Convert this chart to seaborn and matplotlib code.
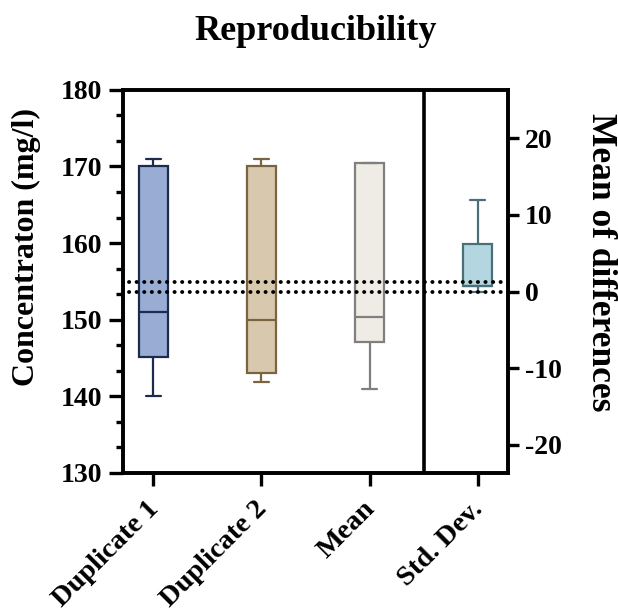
import numpy as np
import pandas as pd
import matplotlib
matplotlib.use("Agg")
import matplotlib.pyplot as plt
import matplotlib.transforms as mtransforms
import seaborn as sns

# categories and box summaries (min, q1, median, q3, max)
categories = ["Duplicate 1", "Duplicate 2", "Mean", "Std. Dev."]
duplicate_1 = [140.0, 145.1, 151.0, 170.0, 171.0]
duplicate_2 = [141.9, 143.0, 150.0, 170.0, 171.0]
mean_vals = [140.9, 147.1, 150.4, 170.4, 170.4]
std_dev = [0.0, 0.7, 0.7, 6.2, 12.0]      # on the right axis

fill_colors = ["#98acd4", "#d8c9ae", "#efebe5", "#b3d6e0"]
edge_colors = ["#1c2b4e", "#7a6440", "#7f7f7f", "#4b6f79"]

left_ticks = [130, 140, 150, 160, 170, 180]
right_ticks = [-20, -10, 0, 10, 20]
ref_lines = [0.0, 1.3]   # dotted lines, right-axis units

sns.set_theme(style="ticks")
plt.rcParams["font.family"] = ["Liberation Serif", "DejaVu Serif"]
plt.rcParams["font.weight"] = "bold"
plt.rcParams["axes.unicode_minus"] = False
for k in ["text.color", "axes.labelcolor", "xtick.color", "ytick.color", "axes.edgecolor"]:
    plt.rcParams[k] = "black"

fig = plt.figure(figsize=(6.18, 6.11), dpi=100)
ax = fig.add_axes([0.199, 0.226, 0.623, 0.627])
ax2 = ax.twinx()

left_groups = [duplicate_1, duplicate_2, mean_vals]
for i, vals in enumerate(left_groups):
    df = pd.DataFrame({"group": categories[i], "value": vals})
    sns.boxplot(data=df, x="group", y="value", order=categories, ax=ax,
                color=fill_colors[i], linecolor=edge_colors[i], linewidth=1.6,
                width=0.27, whis=(0, 100), saturation=1)

df_sd = pd.DataFrame({"group": categories[3], "value": std_dev})
sns.boxplot(data=df_sd, x="group", y="value", order=categories, ax=ax2,
            color=fill_colors[3], linecolor=edge_colors[3], linewidth=1.6,
            width=0.27, whis=(0, 100), saturation=1)

for y in ref_lines:
    ax2.axhline(y, xmin=0.015, color="black", lw=2.8, linestyle=(0, (0.05, 1.9)),
                dash_capstyle="round", zorder=5)

ax.axvline(2.5, color="black", lw=2.6)

ax.set_xlim(-0.28, 3.28)
ax.set_ylim(130, 180)
ax2.set_ylim(-23.67, 26.33)
ax.set_yticks(left_ticks)
ax.set_yticks(np.arange(130, 180, 10 / 3), minor=True)
ax2.set_yticks(right_ticks)

ax.set_xticks(range(len(categories)))
ax.set_xticklabels(categories, rotation=45, ha="right", rotation_mode="anchor",
                   fontsize=20.5, fontweight="bold")
for lab in ax.get_yticklabels() + ax2.get_yticklabels():
    lab.set_fontsize(20)
    lab.set_fontweight("bold")

ax.set_xlabel("")
ax.set_ylabel("Concentraton (mg/l)", fontsize=23, fontweight="bold",
              va="center", ha="center")
ax.yaxis.set_label_coords(-0.252, 0.59)
ax2.set_ylabel("Mean of differences", fontsize=25.5, fontweight="bold",
               rotation=270, va="center", ha="center")
ax2.yaxis.set_label_coords(1.239, 0.551)
ax.set_title("Reproducibility", fontsize=26, fontweight="bold", pad=36)

for a in (ax, ax2):
    for s in a.spines.values():
        s.set_linewidth(2.6)
        s.set_color("black")
    a.tick_params(axis="both", which="both", width=2.4, color="black",
                  labelcolor="black")
ax.tick_params(axis="y", which="major", length=10, pad=5)
ax.tick_params(axis="y", which="minor", length=5)
ax.tick_params(axis="x", length=9, pad=6)
ax2.tick_params(axis="y", length=8, pad=4)

# nudge the rotated labels a little left/down like the original
# (after tick_params, which resets the label transforms)
shift = mtransforms.ScaledTranslation(-5 / 72, -2 / 72, fig.dpi_scale_trans)
for tick in ax.xaxis.get_major_ticks():
    tick.label1.set_transform(tick.label1.get_transform() + shift)

fig.savefig("out.png", dpi=100)
